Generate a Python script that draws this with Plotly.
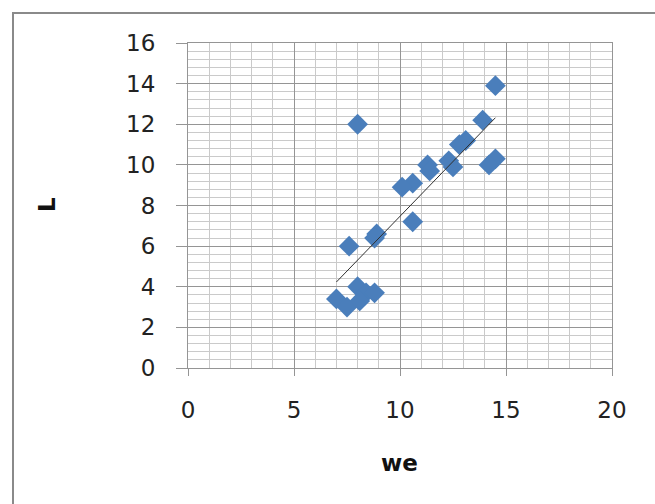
import numpy as np
import plotly.graph_objects as go

# Measured samples: we (x) vs L (y)
we = [14.5, 8.0, 13.9, 13.1, 12.8, 14.5, 14.2, 12.3, 12.5, 11.3, 11.4, 10.6,
      10.1, 10.6, 8.9, 8.8, 7.6, 7.0, 7.5, 8.0, 8.4, 8.1, 8.8]
L = [13.9, 12.0, 12.2, 11.2, 11.0, 10.3, 10.0, 10.2, 9.9, 10.0, 9.7, 9.1,
     8.9, 7.2, 6.6, 6.4, 6.0, 3.4, 3.0, 4.0, 3.7, 3.3, 3.7]

x_ticks = [0, 5, 10, 15, 20]
y_ticks = [0, 2, 4, 6, 8, 10, 12, 14, 16]

# Linear trendline across the data's x span
slope, intercept = np.polyfit(we, L, 1)
tx = np.array([min(we), max(we)])
ty = slope * tx + intercept

font_family = "DejaVu Sans"
major_col = "#959595"
minor_col = "#cacaca"

fig = go.Figure()
fig.add_trace(go.Scatter(
    x=we, y=L, mode="markers",
    marker=dict(symbol="diamond", size=16, color="#4A7EBB",
                line=dict(width=0)),
    showlegend=False, hoverinfo="x+y"))
fig.add_trace(go.Scatter(
    x=tx, y=ty, mode="lines",
    line=dict(color="#303030", width=1),
    showlegend=False, hoverinfo="skip"))

fig.update_layout(
    width=655, height=504,
    margin=dict(l=188, r=43, t=43, b=136),
    paper_bgcolor="white", plot_bgcolor="white",
    font=dict(family=font_family, size=23, color="#222222"),
)

fig.update_xaxes(
    range=[0, 20], tickvals=x_ticks, ticktext=[str(v) for v in x_ticks],
    showgrid=True, gridcolor=major_col, gridwidth=1,
    minor=dict(dtick=1, showgrid=True, gridcolor=minor_col, gridwidth=1,
               ticks=""),
    showline=True, linecolor=major_col, linewidth=1, mirror=True,
    ticks="outside", ticklen=7, tickcolor=major_col, tickwidth=1,
    ticklabelstandoff=14,
    zeroline=False,
)
fig.update_yaxes(
    range=[0, 16], tickvals=y_ticks, ticktext=[str(v) for v in y_ticks],
    showgrid=True, gridcolor=major_col, gridwidth=1,
    minor=dict(dtick=0.4, showgrid=True, gridcolor=minor_col, gridwidth=1,
               ticks=""),
    showline=True, linecolor=major_col, linewidth=1, mirror=True,
    ticks="outside", ticklen=11, tickcolor=major_col, tickwidth=1,
    ticklabelstandoff=16,
    zeroline=False,
)

# Axis titles
fig.add_annotation(text="<b>we</b>", xref="paper", yref="paper",
                   x=(399 - 188) / 424, y=(368 - 463) / 325,
                   showarrow=False, font=dict(size=23, color="#111111"),
                   xanchor="center", yanchor="middle")
fig.add_annotation(text="<b>L</b>", xref="paper", yref="paper",
                   x=(47 - 188) / 424, y=(368 - 205) / 325,
                   showarrow=False, textangle=-90,
                   font=dict(size=23, color="#111111"),
                   xanchor="center", yanchor="middle")

# Chart-area frame
fig.add_shape(type="rect", xref="paper", yref="paper",
              x0=(13 - 188) / 424, x1=(670 - 188) / 424,
              y0=(368 - 520) / 325, y1=(368 - 13) / 325,
              line=dict(color="#8a8a8a", width=2), fillcolor="rgba(0,0,0,0)",
              layer="below")

fig.write_html("out.html")
